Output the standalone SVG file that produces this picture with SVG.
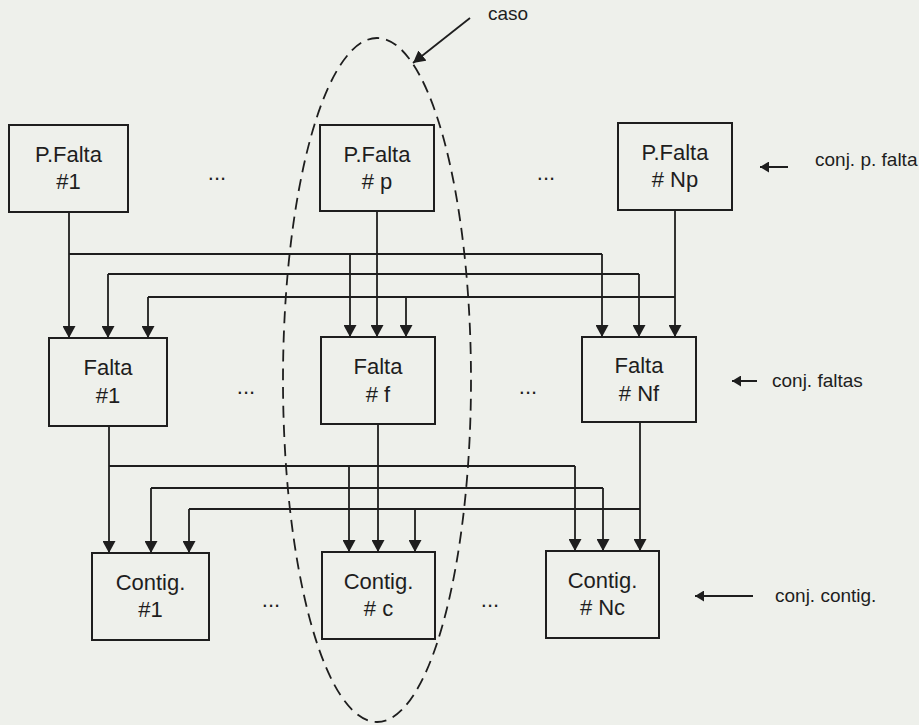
<svg xmlns="http://www.w3.org/2000/svg" width="919" height="725" viewBox="0 0 919 725">
<style>
.bg{fill:#eef0eb}
.box{fill:none;stroke:#1e1e1e;stroke-width:2}
.t{font-family:"Liberation Sans",Arial,sans-serif;font-size:22px;fill:#1e1e1e;text-anchor:middle}
.lbl{font-family:"Liberation Sans",Arial,sans-serif;font-size:19px;fill:#1e1e1e}
.dots{font-family:"Liberation Sans",Arial,sans-serif;font-size:22px;fill:#1e1e1e;text-anchor:middle}
.w{fill:none;stroke:#1e1e1e;stroke-width:1.8}
.a{fill:none;stroke:#1e1e1e;stroke-width:1.8;marker-end:url(#ah)}
.s{fill:none;stroke:#1e1e1e;stroke-width:2;marker-end:url(#sh)}
.case{fill:none;stroke:#1e1e1e;stroke-width:1.8;stroke-dasharray:12 7}
</style>
<defs>
<marker id="ah" markerUnits="userSpaceOnUse" markerWidth="13" markerHeight="13" refX="12" refY="6.5" orient="auto">
<path d="M0,0 L12,6.5 L0,13 z" fill="#1e1e1e"/>
</marker>
<marker id="sh" markerUnits="userSpaceOnUse" markerWidth="10" markerHeight="11" refX="9" refY="5.5" orient="auto">
<path d="M0,0 L9,5.5 L0,11 z" fill="#1e1e1e"/>
</marker>
</defs>
<rect class="bg" x="0" y="0" width="919" height="725"/>

<g id="connectors">
<!-- P.Falta #1 -->
<path class="a" d="M69,212 V338"/>
<path class="w" d="M69,254 H602"/>
<path class="a" d="M350,254 V337"/>
<path class="a" d="M602,254 V337"/>
<!-- P.Falta #p -->
<path class="a" d="M377,211 V337"/>
<path class="w" d="M108,274 H639"/>
<path class="a" d="M108,274 V338"/>
<path class="a" d="M639,274 V337"/>
<!-- P.Falta #Np -->
<path class="a" d="M675,210 V337"/>
<path class="w" d="M148,297 H675"/>
<path class="a" d="M148,297 V338"/>
<path class="a" d="M406,297 V337"/>
<!-- Falta #1 -->
<path class="a" d="M109,426 V553"/>
<path class="w" d="M109,466 H575"/>
<path class="a" d="M349,466 V552"/>
<path class="a" d="M575,466 V551"/>
<!-- Falta #f -->
<path class="a" d="M378,424 V552"/>
<path class="w" d="M151,488 H603"/>
<path class="a" d="M151,488 V553"/>
<path class="a" d="M603,488 V551"/>
<!-- Falta #Nf -->
<path class="a" d="M640,422 V551"/>
<path class="w" d="M189,509 H640"/>
<path class="a" d="M189,509 V553"/>
<path class="a" d="M415,509 V552"/>
<!-- set labels arrows -->
<path class="s" d="M788,167 H760"/>
<path class="s" d="M757,381 H732"/>
<path class="s" d="M753,596 H695"/>
<!-- caso arrow -->
<path class="a" d="M470,18 L413,63"/>
</g>

<g id="pfalta1"><rect class="box" x="9" y="125" width="119" height="87"/><text class="t" x="68.5" y="162">P.Falta</text><text class="t" x="68.5" y="189">#1</text></g>
<g id="pfaltap"><rect class="box" x="320" y="125" width="114" height="86"/><text class="t" x="377" y="162">P.Falta</text><text class="t" x="377" y="189"># p</text></g>
<g id="pfaltaNp"><rect class="box" x="618" y="123" width="114" height="87"/><text class="t" x="675" y="160">P.Falta</text><text class="t" x="675" y="187"># Np</text></g>

<g id="falta1"><rect class="box" x="49" y="338" width="118" height="88"/><text class="t" x="108" y="375">Falta</text><text class="t" x="108" y="403">#1</text></g>
<g id="faltaf"><rect class="box" x="321" y="337" width="114" height="87"/><text class="t" x="378" y="374">Falta</text><text class="t" x="378" y="402"># f</text></g>
<g id="faltaNf"><rect class="box" x="582" y="337" width="114" height="85"/><text class="t" x="639" y="373">Falta</text><text class="t" x="639" y="401"># Nf</text></g>

<g id="contig1"><rect class="box" x="92" y="553" width="117" height="87"/><text class="t" x="150.5" y="590">Contig.</text><text class="t" x="150.5" y="617">#1</text></g>
<g id="contigc"><rect class="box" x="322" y="552" width="113" height="87"/><text class="t" x="378.5" y="589">Contig.</text><text class="t" x="378.5" y="616"># c</text></g>
<g id="contigNc"><rect class="box" x="546" y="551" width="113" height="87"/><text class="t" x="602.5" y="588">Contig.</text><text class="t" x="602.5" y="615"># Nc</text></g>

<g id="dots">
<text class="dots" x="217" y="180">...</text>
<text class="dots" x="546" y="180">...</text>
<text class="dots" x="246" y="394">...</text>
<text class="dots" x="528" y="394">...</text>
<text class="dots" x="271" y="607">...</text>
<text class="dots" x="490" y="607">...</text>
</g>

<g id="caso">
<ellipse class="case" cx="377" cy="380" rx="94" ry="342"/>
<text class="lbl" x="488" y="20">caso</text>
</g>

<g id="labels">
<text class="lbl" x="815" y="166">conj. p. falta</text>
<text class="lbl" x="772" y="387">conj. faltas</text>
<text class="lbl" x="775" y="602">conj. contig.</text>
</g>
</svg>
